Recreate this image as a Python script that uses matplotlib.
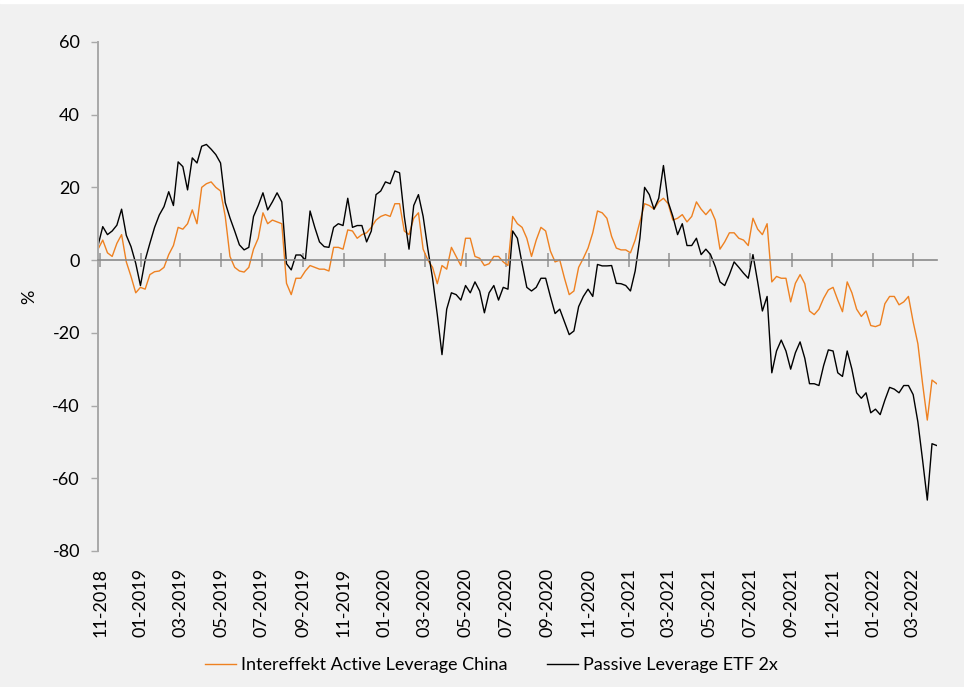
import matplotlib
matplotlib.use("Agg")
import matplotlib.pyplot as plt
import matplotlib.dates as mdates
from matplotlib.lines import Line2D
from matplotlib.patches import Rectangle
import pandas as pd

# weekly readings between first and last trading day shown
START = "2018-10-29"
END = "2022-04-06"

ACTIVE = [
    3, 5.5, 2, 1, 4.6, 7, -0.5, -4.5, -9, -7.5,
    -8, -4, -3.2, -3, -2, 1.5, 4, 9, 8.5, 10,
    13.8, 10, 20, 21, 21.5, 20, 19, 12, 1, -2,
    -3, -3.3, -2, 3, 6, 13, 10, 11, 10.5, 10,
    -6.4, -9.5, -5, -5, -3, -1.5, -2, -2.5, -2.5, -3,
    3.5, 3.5, 3, 8.3, 8, 6, 7, 7.5, 9, 11,
    12, 12.5, 12, 15.5, 15.5, 8, 7, 11.5, 13, 3,
    0, -2, -6.5, -1.5, -2.5, 3.5, 1, -1.5, 6, 6,
    1, 0.5, -1.5, -1, 1, 1, -0.5, -1.5, 12, 10,
    9, 6, 1, 5.5, 9, 8, 2.5, -0.5, 0, -5,
    -9.5, -8.5, -2, 0.5, 3.3, 7.5, 13.5, 13, 11.5, 6.5,
    3.3, 2.8, 2.8, 2, 5.5, 10.5, 15.5, 15, 14, 16,
    17, 15.5, 11, 11.5, 12.5, 10.5, 12, 16, 14, 12.5,
    14, 11, 3, 5, 7.5, 7.5, 6, 5.5, 4, 11.5,
    8.5, 7, 10, -6, -4.5, -5, -5, -11.5, -6.4, -4,
    -6.5, -14, -15, -13.5, -10.5, -8.2, -7.5, -11, -14.2, -6,
    -9, -13.5, -15.5, -14, -18, -18.3, -17.8, -12, -10, -10,
    -12.3, -11.5, -10, -17, -23, -34, -44, -33, -34,
]

PASSIVE = [
    4, 9.2, 7, 8, 9.6, 14, 6.8, 3.7, -0.9, -7,
    0, 4.6, 9, 12.4, 14.7, 18.8, 15, 27, 25.7, 19.3,
    28.1, 26.7, 31.3, 31.8, 30.5, 29, 26.7, 15.8, 11.6, 8,
    4.2, 2.8, 3.5, 12, 15, 18.5, 13.8, 16, 18.5, 16,
    -1, -2.7, 1.4, 1.4, 0, 13.5, 9, 5, 3.7, 3.5,
    9, 10, 9.5, 17, 9, 9.5, 9.5, 5, 8, 18,
    19, 21.5, 21, 24.5, 24, 12, 3, 15, 18, 12,
    3, -5, -15, -26, -13.5, -9, -9.5, -11, -7, -9,
    -6, -8.5, -14.5, -9, -7, -11, -7.5, -8, 8, 6,
    -1, -7.5, -8.5, -7.5, -5, -5, -10, -14.7, -13.5, -17,
    -20.5, -19.5, -12.8, -10, -8, -10, -1.2, -1.6, -1.6, -1.5,
    -6.4, -6.5, -7, -8.5, -3, 6, 20, 18, 14, 17,
    26, 16, 12, 7, 10, 4, 4, 6, 1.5, 3,
    1.5, -1.8, -6, -7, -4, -0.5, -2, -3.6, -5, 1.5,
    -6, -14, -10, -31, -25, -22, -25, -30, -25.5, -22.5,
    -27, -34, -34, -34.5, -29, -24.7, -25, -31, -32, -25,
    -30, -36.5, -38, -36.5, -42, -41, -42.5, -38.5, -35, -35.5,
    -36.5, -34.5, -34.5, -37, -44.5, -55, -66, -50.5, -51,
]

SERIES_NAMES = ["Intereffekt Active Leverage China", "Passive Leverage ETF 2x"]
SERIES_COLORS = ["#EE8121", "#000000"]
Y_TICKS = [-80, -60, -40, -20, 0, 20, 40, 60]
TICK_MONTHS = pd.date_range("2018-11-01", "2022-03-01", freq="2MS")

BG = "#f1f1f1"
FONT = "Lato"
FS = 13

plt.rcParams["axes.unicode_minus"] = False


def main() -> None:
    dates = pd.date_range(START, END, periods=len(ACTIVE))

    fig = plt.figure(figsize=(9.64, 6.87), dpi=100)
    fig.patch.set_facecolor(BG)
    fig.add_artist(Rectangle((0, 1 - 3 / 687), 1, 3 / 687,
                             transform=fig.transFigure, color="white"))

    ax = fig.add_axes([0.1017, 0.198, 0.870, 0.741])
    ax.set_facecolor(BG)

    for vals, name, col in zip([ACTIVE, PASSIVE], SERIES_NAMES, SERIES_COLORS):
        ax.plot(dates, vals, color=col, lw=1.0, label=name)

    ax.set_ylim(Y_TICKS[0], Y_TICKS[-1])
    ax.set_yticks(Y_TICKS)
    ax.set_xlim(dates[0], dates[-1])

    # Spines: gray y axis, x axis sits on the zero line
    for s in ("top", "right"):
        ax.spines[s].set_visible(False)
    ax.spines["left"].set_color("#a9a9a9")
    ax.spines["left"].set_linewidth(1.4)
    ax.spines["bottom"].set_position(("data", 0))
    ax.spines["bottom"].set_color("#8a8a8a")
    ax.spines["bottom"].set_linewidth(1.2)

    ax.set_xticks(TICK_MONTHS)
    ax.tick_params(axis="x", direction="inout", length=10, width=1.2,
                   color="#9a9a9a", labelbottom=False)
    ax.tick_params(axis="y", direction="out", length=5, width=1.0,
                   color="#a9a9a9", labelsize=FS, pad=8)
    for lab in ax.get_yticklabels():
        lab.set_fontfamily(FONT)

    # Month labels sit at the bottom of the plot
    sec = ax.secondary_xaxis("bottom")
    sec.set_xticks(mdates.date2num(TICK_MONTHS))
    sec.xaxis.set_major_formatter(mdates.DateFormatter("%m-%Y"))
    sec.tick_params(length=0, labelrotation=90, labelsize=FS, pad=12)
    sec.spines["bottom"].set_visible(False)
    for lab in sec.get_xticklabels():
        lab.set_fontfamily(FONT)

    ax.set_ylabel("%", fontsize=FS, fontfamily=FONT)
    ax.yaxis.set_label_coords(-0.073, 0.5)

    handles = [Line2D([], [], color=c, lw=1.0) for c in SERIES_COLORS]
    fig.legend(handles, SERIES_NAMES, loc="center", bbox_to_anchor=(0.51, 0.032),
               ncol=2, frameon=False, handlelength=1.7, handletextpad=0.3,
               columnspacing=2.2, prop={"family": FONT, "size": FS})

    fig.savefig("out.png", dpi=100, facecolor=BG)
    plt.close(fig)


if __name__ == "__main__":
    main()
